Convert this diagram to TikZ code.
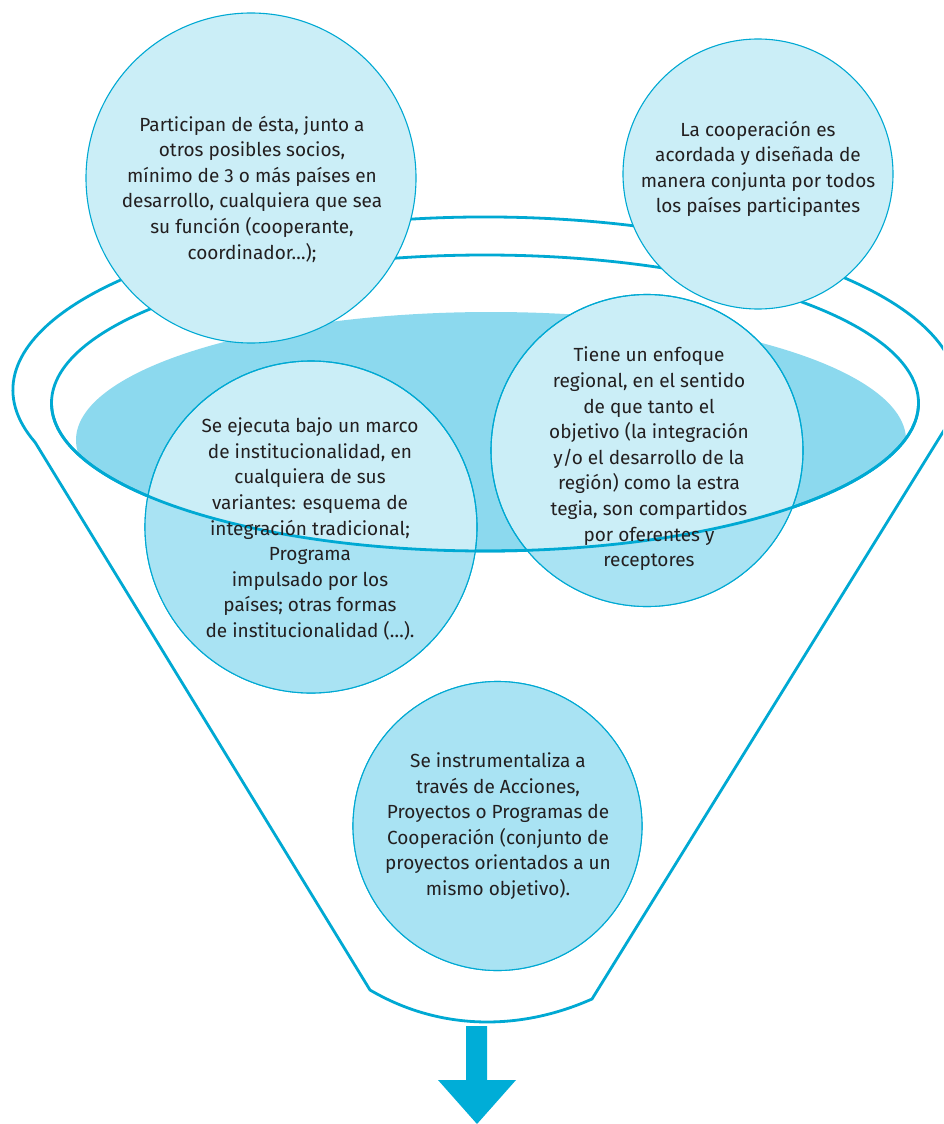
\documentclass[tikz,border=0pt]{standalone}
\usepackage{fontspec}
\setmainfont{Fira Sans}
\definecolor{colLine}{HTML}{00A9D3}
\definecolor{colLight}{HTML}{CBEEF7}
\definecolor{colMid}{HTML}{A9E3F3}
\definecolor{colEll}{HTML}{8CD9EE}
\definecolor{colTxt}{HTML}{231F20}
\definecolor{colArr}{HTML}{00ADD7}
\begin{document}
\begin{tikzpicture}[x=1pt,y=-1pt,
  funnel/.style={draw=colLine,line width=2.8pt},
  bubble/.style={circle,draw=colLine,line width=1.1pt,fill=colLight,inner sep=0pt,outer sep=0pt},
  rim/.style={draw=colLine,line width=1.1pt},
  txt/.style={align=center,text=colTxt,font=\fontsize{19}{25.6}\selectfont,inner sep=0pt}]
\useasboundingbox (0,0) rectangle (943,1124);
\fill[white] (0,0) rectangle (943,1124);
\clip (0,0) rectangle (943,1124);

\coordinate (kL) at (35.1,442.3);
\coordinate (kR) at (945.1,428.6);
\coordinate (bR) at (592,999);
\coordinate (bL) at (370,990);
\coordinate (ctrI) at (485,403);
\coordinate (iL) at (51.5,403);

% outer funnel
\draw[funnel] (kL) arc[start angle=162.4,end angle=372.9,x radius=472,y radius=173]
  -- (bR) .. controls (520,1031) and (440,1031) .. (bL) -- cycle;

% filled surface
\begin{scope}
  \clip (ctrI) ellipse[x radius=433.5,y radius=148];
  \fill[colEll] (491,440) ellipse[x radius=415,y radius=128];
\end{scope}
% inner rim
\draw[funnel] (ctrI) ellipse[x radius=433.5,y radius=148];

% bubbles
\node[bubble,minimum size=330] (c1) at (251,178) {};
\node[bubble,minimum size=270] (c2) at (758,174) {};
\node[bubble,minimum size=332] (c3) at (311,527) {};
\node[bubble,minimum size=312] (c4) at (647,450.5) {};
\node[bubble,minimum size=289] (c5) at (497.5,826) {};

% darker tone of the bubbles inside the funnel body (below the rim)
\begin{scope}
  \clip (c3.center) circle[radius=166] (c4.center) circle[radius=156] (c5.center) circle[radius=144.5];
  \fill[colMid] (0,403) -- (iL) arc[start angle=180,end angle=0,x radius=433.5,y radius=148]
    -- (943,403) -- (943,1124) -- (0,1124) -- cycle;
\end{scope}
\draw[rim] (c3.center) circle[radius=166];
\draw[rim] (c4.center) circle[radius=156];
\draw[rim] (c5.center) circle[radius=144.5];

% front half of the inner rim
\draw[funnel] (iL) arc[start angle=180,end angle=0,x radius=433.5,y radius=148];

% texts
\node[txt] (t1) at (252,189) {Participan de ésta, junto a\\otros posibles socios,\\mínimo de 3 o más países en\\desarrollo, cualquiera que sea\\su función (cooperante,\\coordinador…);};
\node[txt] (t2) at (758,169) {La cooperación es\\acordada y diseñada de\\manera conjunta por todos\\los países participantes};
\node[txt] (t3) at (310,529) {Se ejecuta bajo un marco\\de institucionalidad, en\\cualquiera de sus\\variantes: esquema de\\integración tradicional;\\Programa\\impulsado por los\\países; otras formas\\de institucionalidad (…).};
\node[txt] (t4) at (649,459) {Tiene un enfoque\\regional, en el sentido\\de que tanto el\\objetivo (la integración\\y/o el desarrollo de la\\región) como la estra\\tegia, son compartidos\\por oferentes y\\receptores};
\node[txt] (t5) at (498,826) {Se instrumentaliza a\\través de Acciones,\\Proyectos o Programas de\\Cooperación (conjunto de\\proyectos orientados a un\\mismo objetivo).};

% output arrow
\fill[colArr] (466,1026) -- (487,1026) -- (487,1080) -- (516,1080) -- (477,1124) -- (438,1080) -- (466,1080) -- cycle;
\end{tikzpicture}
\end{document}
